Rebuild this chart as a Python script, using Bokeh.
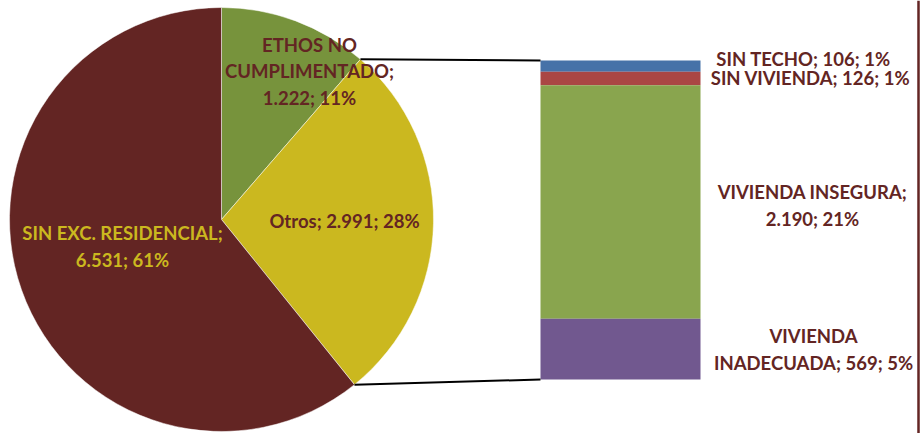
import math
from bokeh.plotting import figure
from bokeh.models import Range1d, ColumnDataSource, Span
from bokeh.core.properties import value
from bokeh.embed import file_html
from bokeh.resources import INLINE

# ---- data ----
pie_categories = ["ETHOS NO CUMPLIMENTADO", "Otros", "SIN EXC. RESIDENCIAL"]
pie_values = [1222, 2991, 6531]
pie_labels = ["ETHOS NO\nCUMPLIMENTADO;\n1.222; 11%", "Otros; 2.991; 28%", "SIN EXC. RESIDENCIAL;\n6.531; 61%"]

bar_categories = ["SIN TECHO", "SIN VIVIENDA", "VIVIENDA INSEGURA", "VIVIENDA INADECUADA"]
bar_values = [106, 126, 2190, 569]
bar_labels = ["SIN TECHO; 106; 1%", "SIN VIVIENDA; 126; 1%", "VIVIENDA INSEGURA;\n2.190; 21%", "VIVIENDA\nINADECUADA; 569; 5%"]

# ---- styles / layout ----
pie_colors = ["#77933C", "#CBB81F", "#632523"]
bar_colors = ["#4672A8", "#AA4644", "#89A54E", "#71588F"]
label_color = "#632523"
pie_label_colors = [label_color, label_color, "#CBB81F"]
FONT = value("Lato")
FSIZE = "18.5px"
LH = 1.2

W, H = 921, 433


def dy(page_y):
    return H - page_y


cx, cy, R = 221, dy(219), 212
bar_left, bar_right = 540, 700
bar_top_px, bar_bot_px = 60, 379

pie_label_pos = [(309, 71), (344, 220), (122, 246)]
bar_label_pos = [(803, 58), (810, 77), (812, 205), (813, 349)]

p = figure(width=W, height=H, output_backend="svg", toolbar_location=None,
           x_range=Range1d(0, W), y_range=Range1d(0, H),
           x_axis_type=None, y_axis_type=None, min_border=0,
           outline_line_color=None, background_fill_color="white")
p.xgrid.visible = False
p.ygrid.visible = False

# ---- pie ----
total = sum(pie_values)
starts, ends = [], []
cum = 0.0
for v in pie_values:
    a0 = math.pi / 2 - 2 * math.pi * (cum + v) / total
    a1 = math.pi / 2 - 2 * math.pi * cum / total
    starts.append(a0)
    ends.append(a1)
    cum += v

pie_src = ColumnDataSource(dict(cat=pie_categories, val=pie_values, start=starts, end=ends, color=pie_colors))
p.wedge(x=cx, y=cy, radius=R, start_angle="start", end_angle="end", color="color",
        line_color="white", line_width=0.5, source=pie_src)

# ---- bar of pie (extra range) ----
bar_total = sum(bar_values)
top_d, bot_d = dy(bar_top_px), dy(bar_bot_px)
k = bar_total / (top_d - bot_d)
p.extra_y_ranges = {"bar": Range1d(0 - bot_d * k, bar_total + (H - top_d) * k)}

order = list(range(len(bar_values)))[::-1]  # bottom to top
bottoms, tops = [0] * len(bar_values), [0] * len(bar_values)
c = 0
for i in order:
    bottoms[i] = c
    c += bar_values[i]
    tops[i] = c
bar_src = ColumnDataSource(dict(cat=bar_categories, bottom=bottoms, top=tops, color=bar_colors))
p.vbar(x=(bar_left + bar_right) / 2, width=bar_right - bar_left, bottom="bottom", top="top",
       color="color", line_color=None, y_range_name="bar", source=bar_src)

# ---- connector lines ----
f1 = pie_values[0] / total
f2 = (pie_values[0] + pie_values[1]) / total
for f, yv in ((f1, bar_total), (f2, 0)):
    ang = math.pi / 2 - 2 * math.pi * f
    px, py = cx + R * math.cos(ang), cy + R * math.sin(ang)
    y_main = bot_d + yv / k
    p.line([px, bar_left], [py, y_main], line_color="black", line_width=2)

# right border line
p.add_layout(Span(location=918, dimension="height", line_color=label_color, line_width=2.5))

# ---- labels ----
p.text(x=[q[0] for q in pie_label_pos], y=[dy(q[1]) for q in pie_label_pos], text=pie_labels,
       text_color=pie_label_colors, text_font=FONT, text_font_style="bold", text_font_size=FSIZE,
       text_align="center", text_baseline="middle", text_line_height=LH)
p.text(x=[q[0] for q in bar_label_pos], y=[dy(q[1]) for q in bar_label_pos], text=bar_labels,
       text_color=label_color, text_font=FONT, text_font_style="bold", text_font_size=FSIZE,
       text_align="center", text_baseline="middle", text_line_height=LH)

open("out.html", "w").write(file_html(p, INLINE))
